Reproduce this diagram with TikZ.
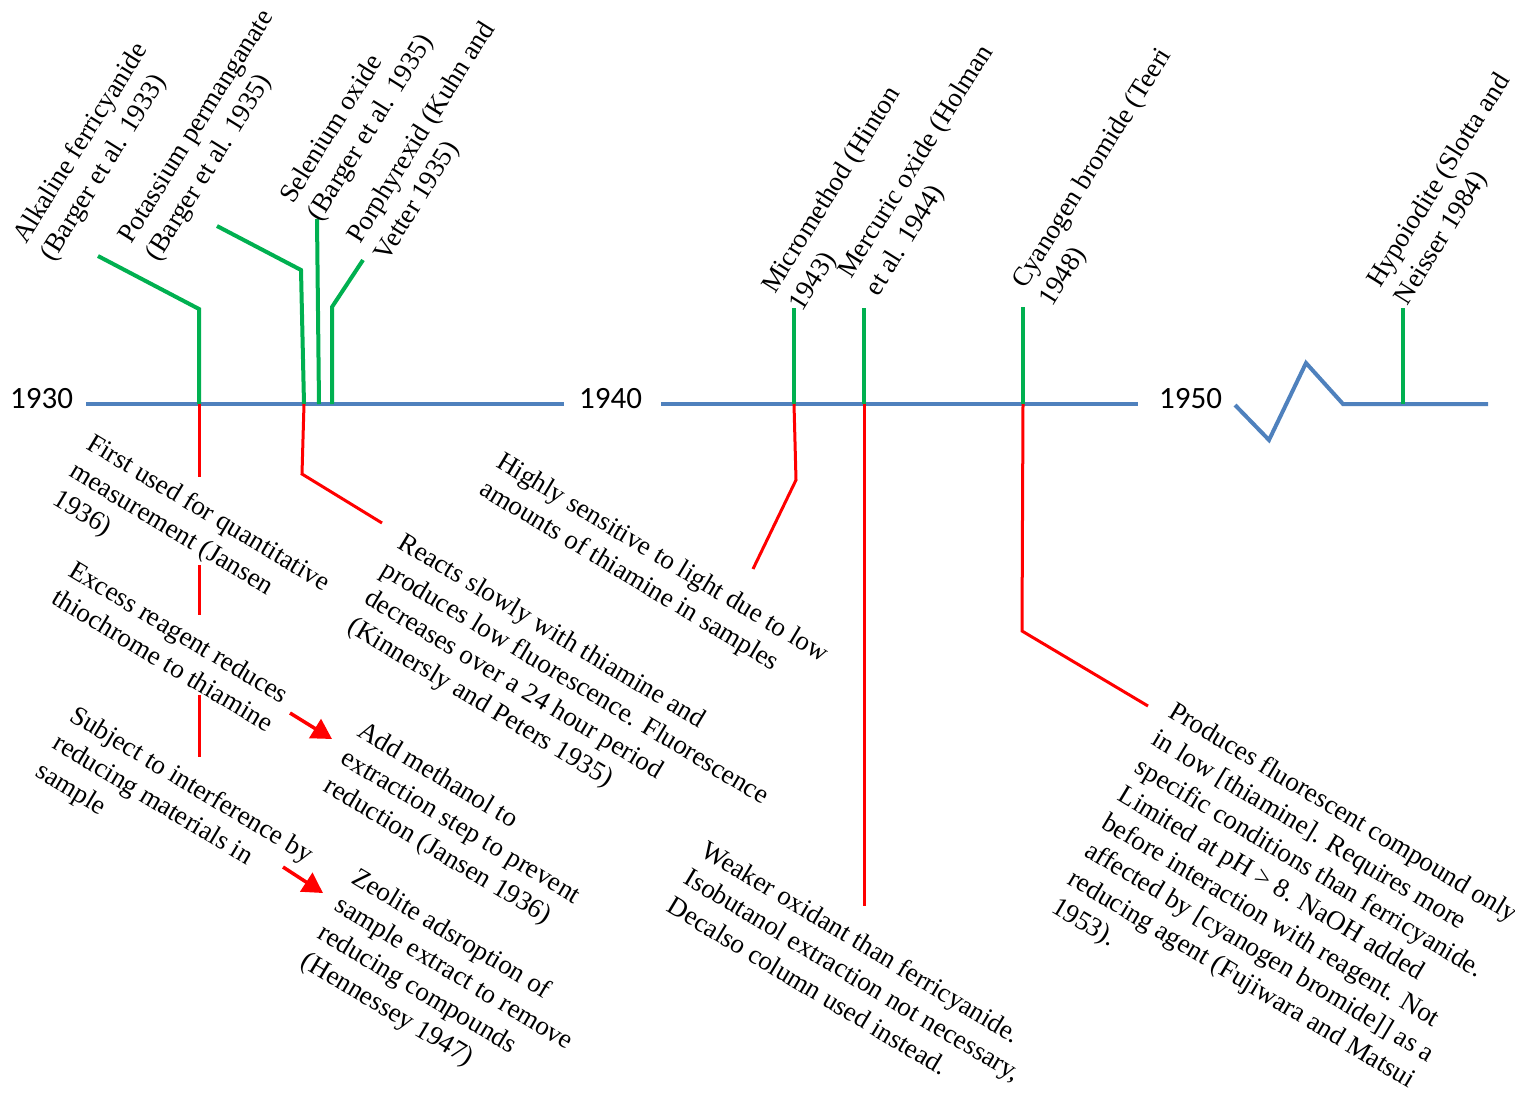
\documentclass[tikz,border=0pt]{standalone}
\usepackage{fontspec}
\setmainfont{Liberation Serif}
\newfontfamily\yearfont{Carlito}
\usetikzlibrary{arrows.meta}
\definecolor{tlblue}{RGB}{79,129,189}
\definecolor{tlgreen}{RGB}{0,176,80}
\definecolor{tlred}{RGB}{255,0,0}
\newcommand{\mltext}[1]{\begin{tabular}[t]{@{}l@{}}#1\end{tabular}}
\begin{document}
\begin{tikzpicture}[x=1pt,y=-1pt,
  axis/.style={draw=tlblue,line width=4pt},
  gline/.style={draw=tlgreen,line width=4pt},
  rline/.style={draw=tlred,line width=3pt},
  rarrow/.style={draw=tlred,fill=tlred,line width=3.5pt,-{Triangle[length=20pt,width=22pt]}},
  toplbl/.style={rotate=58,anchor=base west,inner sep=0pt,font=\fontsize{27}{32.5}\selectfont},
  botlbl/.style={rotate=-31,anchor=base west,inner sep=0pt,font=\fontsize{27}{32.5}\selectfont},
  yearlbl/.style={anchor=base west,inner sep=0pt,font=\yearfont\fontsize{31}{36}\selectfont}]
\path[use as bounding box] (0,0) rectangle (1515,1093);

% timeline
\coordinate (s1a) at (86,404);
\coordinate (s1b) at (564,404);
\coordinate (s2a) at (661,404);
\coordinate (s2b) at (1138,404);
\coordinate (z0) at (1235,405);
\coordinate (z1) at (1269,440);
\coordinate (z2) at (1306,363);
\coordinate (z3) at (1343,404);
\coordinate (z4) at (1488,404);
\draw[axis] (s1a) -- (s1b);
\draw[axis] (s2a) -- (s2b);
\draw[axis] (z0) -- (z1) -- (z2) -- (z3) -- (z4);

\node[yearlbl] (y1930) at (10,408) {1930};
\node[yearlbl] (y1940) at (579,408) {1940};
\node[yearlbl] (y1950) at (1159,408) {1950};

% ticks
\coordinate (k1) at (199,404);
\coordinate (k2) at (304,404);
\coordinate (k3) at (319,404);
\coordinate (k4) at (332,404);
\coordinate (k5) at (794,404);
\coordinate (k6) at (864,404);
\coordinate (k7) at (1023,404);
\coordinate (k8) at (1403,404);

\draw[gline] (k1) -- (199,309) -- (98,256);
\draw[gline] (k2) -- (301,270) -- (217,226);
\draw[gline] (k3) -- (317,219);
\draw[gline] (k4) -- (332,307) -- (363,260);
\draw[gline] (k5) -- (794,308);
\draw[gline] (k6) -- (864,308);
\draw[gline] (k7) -- (1023,307);
\draw[gline] (k8) -- (1403,308);

% red connectors
\draw[rline] (k1) -- (199,477);
\draw[rline] (199,565) -- (199,615);
\draw[rline] (199,695) -- (199,757);
\draw[rline] (k2) -- (302,474) -- (382,523);
\draw[rline] (k5) -- (796,480) -- (753,569);
\draw[rline] (k6) -- (864,906);
\draw[rline] (k7) -- (1022,631) -- (1148,706);

\draw[rarrow] (290,713) -- (332,739);
\draw[rarrow] (283,867) -- (323,893);

% top labels
\node[toplbl] (l1) at (26,245) {\mltext{Alkaline ferricyanide\\(Barger et al. 1933)}};
\node[toplbl] (l2) at (131,245) {\mltext{Potassium permanganate\\(Barger et al. 1935)}};
\node[toplbl] (l3) at (293,205) {\mltext{Selenium oxide\\(Barger et al. 1935)}};
\node[toplbl] (l4) at (360,245) {\mltext{Porphyrexid (Kuhn and\\Vetter 1935)}};
\node[toplbl] (l5) at (775,295) {\mltext{Micromethod (Hinton\\1943)}};
\node[toplbl] (l6) at (851,280) {\mltext{Mercuric oxide (Holman\\et al. 1944)}};
\node[toplbl] (l7) at (1025,290) {\mltext{Cyanogen bromide (Teeri\\1948)}};
\node[toplbl] (l8) at (1380,289) {\mltext{Hypoiodite (Slotta and\\Neisser 1984)}};

% bottom labels
\node[botlbl] (d1) at (85,448) {\mltext{First used for quantitative\\measurement (Jansen\\1936)}};
\node[botlbl] (d2) at (67,575) {\mltext{Excess reagent reduces\\thiochrome to thiamine}};
\node[botlbl] (d3) at (68,720) {\mltext{Subject to interference by\\reducing materials in\\sample}};
\node[botlbl] (d4) at (396.5,547) {\mltext{Reacts slowly with thiamine and\\produces low fluorescence. Fluorescence\\decreases over a 24 hour period\\(Kinnersly and Peters 1935)}};
\node[botlbl] (d5) at (495,466) {\mltext{Highly sensitive to light due to low\\amounts of thiamine in samples}};
\node[botlbl] (d6) at (356,735) {\mltext{Add methanol to\\extraction step to prevent\\reduction (Jansen 1936)}};
\node[botlbl] (d7) at (350,882) {\mltext{Zeolite adsroption of\\sample extract to remove\\reducing compounds\\(Hennessey 1947)}};
\node[botlbl] (d8) at (699,855) {\mltext{Weaker oxidant than ferricyanide.\\Isobutanol extraction not necessary,\\Decalso column used instead.}};
\node[botlbl] (d9) at (1167,716) {\mltext{Produces fluorescent compound only\\in low [thiamine]. Requires more\\specific conditions than ferricyanide.\\Limited at pH > 8. NaOH added\\before interaction with reagent. Not\\affected by [cyanogen bromide]] as a\\reducing agent (Fujiwara and Matsui\\1953).}};
\end{tikzpicture}
\end{document}
